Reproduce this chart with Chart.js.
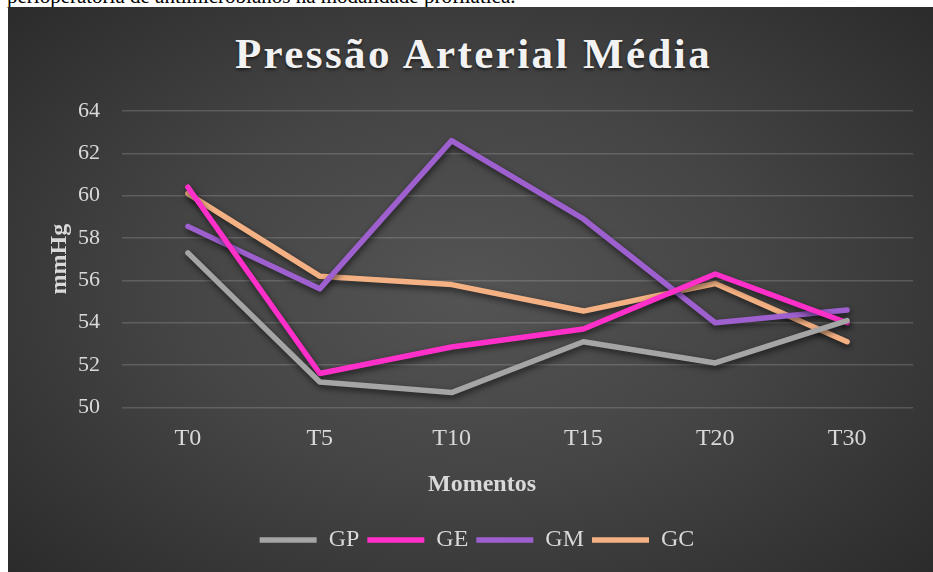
<!DOCTYPE html>
<html>
<head>
<meta charset="utf-8">
<script src="https://cdn.jsdelivr.net/npm/chart.js@4.4.1/dist/chart.umd.min.js"></script>
<style>
  html, body { margin: 0; padding: 0; background: #fff; width: 933px; height: 572px; overflow: hidden; }
  #above {
    position: absolute; left: 7px; top: -14px; margin: 0;
    font: 21px "Liberation Serif", "Times New Roman", serif; line-height: 21px; color: #000;
    white-space: nowrap;
  }
  #box {
    position: absolute; left: 8px; top: 7px; width: 925px; height: 565px;
    background: radial-gradient(ellipse 70% 75% at 50% 50%, #545454 0%, #454545 45%, #2a2a2a 100%);
  }
  #title {
    position: absolute; left: 6px; right: 0; top: 25px; text-align: center;
    font: bold 43px "Liberation Serif", "Times New Roman", serif; line-height: 43px;
    letter-spacing: 2.4px; color: #f2f2f2; text-shadow: 0 2px 3px rgba(0,0,0,0.55);
  }
  canvas { position: absolute; left: 0; top: 0; }
</style>
</head>
<body>
<p id="above">perioperatória de antimicrobianos na modalidade profilática.</p>
<div id="box">
  <div id="title">Pressão Arterial Média</div>
  <canvas id="chartCanvas" width="925" height="565"></canvas>
</div>
<script>
const categories = ["T0", "T5", "T10", "T15", "T20", "T30"];
const gp = [57.3, 51.2, 50.7, 53.1, 52.1, 54.1];
const ge = [60.4, 51.6, 52.85, 53.7, 56.3, 54.0];
const gm = [58.55, 55.6, 62.6, 58.9, 54.0, 54.6];
const gc = [60.1, 56.2, 55.8, 54.55, 55.85, 53.1];

const xTitle = "Momentos";
const serif = "'Liberation Serif', 'Times New Roman', serif";

const lineShadow = {
  id: "lineShadow",
  beforeDatasetDraw(chart) {
    const ctx = chart.ctx;
    ctx.save();
    ctx.shadowColor = "rgba(0,0,0,0.6)";
    ctx.shadowBlur = 6;
    ctx.shadowOffsetX = 1;
    ctx.shadowOffsetY = 3;
  },
  afterDatasetDraw(chart) {
    chart.ctx.restore();
  }
};

// x axis title is centred on the whole chart box, not on the plot area
const centredXTitle = {
  id: "centredXTitle",
  afterDraw(chart) {
    const ctx = chart.ctx;
    const sx = chart.scales.x;
    ctx.save();
    ctx.font = "bold 24px " + serif;
    ctx.fillStyle = "#d9d9d9";
    ctx.textAlign = "center";
    ctx.textBaseline = "middle";
    ctx.fillText(xTitle, 474, sx.bottom - 21 - 14.4);
    ctx.restore();
  }
};

function series(label, data, color) {
  return {
    label: label,
    data: data,
    borderColor: color,
    backgroundColor: color,
    borderWidth: 5.5,
    borderCapStyle: "round",
    borderJoinStyle: "round",
    pointRadius: 0,
    tension: 0
  };
}

const ctx = document.getElementById("chartCanvas").getContext("2d");
new Chart(ctx, {
  type: "line",
  data: {
    labels: categories,
    datasets: [
      series("GP", gp, "#a5a5a5"),
      series("GE", ge, "#ff2fc9"),
      series("GM", gm, "#9e5fcf"),
      series("GC", gc, "#f4b183")
    ]
  },
  options: {
    responsive: false,
    animation: false,
    layout: { padding: { top: 104, left: 33, right: 20, bottom: 10 } },
    plugins: {
      tooltip: { enabled: false },
      legend: {
        position: "bottom",
        labels: {
          usePointStyle: true,
          pointStyle: "line",
          pointStyleWidth: 57,
          boxHeight: 6,
          padding: 8,
          color: "#d9d9d9",
          font: { family: serif, size: 24 }
        }
      }
    },
    scales: {
      x: {
        offset: true,
        grid: { display: false },
        border: { display: false },
        ticks: { color: "#d9d9d9", padding: 9, font: { family: serif, size: 24 } },
        title: {
          // space is kept here, the text itself is drawn by centredXTitle
          display: true, text: "", color: "#d9d9d9",
          font: { family: serif, size: 24, weight: "bold" }, padding: { top: 8, bottom: 21 }
        }
      },
      y: {
        min: 50,
        max: 64,
        afterFit(scale) { scale.width = 81; },
        ticks: { stepSize: 2, color: "#d9d9d9", padding: 22, font: { family: serif, size: 22 } },
        grid: { color: "rgba(217,217,217,0.2)", lineWidth: 1.5, drawTicks: false },
        border: { display: false },
        title: {
          display: true, text: "mmHg", color: "#d9d9d9",
          font: { family: serif, size: 24, weight: "bold" }, padding: 4
        }
      }
    }
  },
  plugins: [lineShadow, centredXTitle]
});
</script>
</body>
</html>
